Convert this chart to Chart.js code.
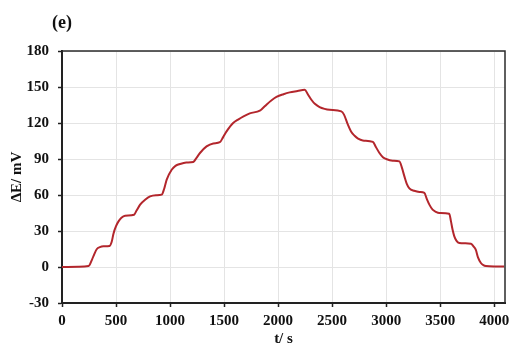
<!DOCTYPE html>
<html>
<head>
<meta charset="utf-8">
<script src="https://cdn.jsdelivr.net/npm/chart.js@4.4.1/dist/chart.umd.min.js"></script>
<style>
  html, body { margin: 0; padding: 0; background: #fff; }
  canvas { display: block; }
</style>
</head>
<body>
<canvas id="c" width="510" height="345"></canvas>
<script>
// Potential response ΔE (mV) versus time t (s)
const timeSec = [
  0, 150, 246, 277, 300, 323, 350, 384, 440, 460, 477, 500, 523, 550, 584, 667, 690, 723, 769, 815,
  870, 923, 945, 969, 1015, 1050, 1092, 1150, 1215, 1245, 1277, 1338, 1400, 1461, 1490, 1523, 1584, 1630, 1680, 1738,
  1831, 1860, 1892, 1940, 1985, 2050, 2107, 2180, 2246, 2275, 2308, 2340, 2384, 2430, 2477, 2585, 2610, 2646, 2675, 2708,
  2740, 2784, 2877, 2905, 2938, 2970, 3000, 3060, 3123, 3145, 3169, 3190, 3215, 3260, 3308, 3354, 3375, 3400, 3430, 3460,
  3492, 3584, 3600, 3615, 3631, 3650, 3677, 3730, 3785, 3810, 3831, 3850, 3877, 3900, 3923, 4000, 4092
];
const deltaE = [
  0, 0.2, 0.8, 6, 11, 15, 16.5, 17.2, 17.5, 21, 28, 34, 38, 41, 42.7, 43.6, 47, 52, 56, 58.8,
  59.8, 60.3, 65, 72.8, 81, 84.3, 85.8, 87, 87.5, 91, 95, 100.5, 103, 104, 108, 113, 120, 122.8, 125.5, 128,
  130.3, 132.5, 135.3, 139, 141.7, 144, 145.5, 146.7, 147.8, 144, 139.4, 136, 133.3, 131.8, 131, 129.7, 127, 118.6, 113, 109.4,
  107, 105.5, 104.2, 100, 95, 91.5, 90, 88.6, 88, 83, 75.5, 69.5, 65.5, 63.5, 62.5, 61.7, 57, 52, 47.8, 46,
  45, 44.4, 38, 31, 25.5, 22, 20, 19.7, 19.4, 17, 14, 8, 3.3, 1.5, 0.8, 0.5, 0.5
];

// Axis ranges and tick values
const xRange = [0, 4100];
const xTicks = [0, 500, 1000, 1500, 2000, 2500, 3000, 3500, 4000];
const yRange = [-30, 180];
const yTicks = [-30, 0, 30, 60, 90, 120, 150, 180];

const panelLabel = '(e)';
const xTitle = 't/ s';
const yTitle = 'ΔE/ mV';

const serif = 'Liberation Serif';
const boldFont = { family: serif, size: 15, weight: 'bold' };

const points = timeSec.map((t, i) => ({ x: t, y: deltaE[i] }));

// Closes the plot box on the top and right sides
const frame = {
  id: 'frame',
  afterDraw(chart) {
    const { ctx, chartArea: a } = chart;
    ctx.save();
    ctx.strokeStyle = '#2b2b2b';
    ctx.lineWidth = 1.5;
    ctx.beginPath();
    ctx.moveTo(a.left, a.top);
    ctx.lineTo(a.right, a.top);
    ctx.lineTo(a.right, a.bottom);
    ctx.stroke();
    ctx.restore();
  }
};

// Panel letter in the upper left corner
const panelTag = {
  id: 'panelTag',
  afterDraw(chart) {
    const ctx = chart.ctx;
    ctx.save();
    ctx.fillStyle = '#111';
    ctx.font = 'bold 18px "' + serif + '"';
    ctx.textAlign = 'left';
    ctx.textBaseline = 'middle';
    ctx.fillText(panelLabel, 52, 23);
    ctx.restore();
  }
};

const plainLabel = (value) => String(value);

new Chart(document.getElementById('c'), {
  type: 'line',
  data: {
    datasets: [{
      data: points,
      borderColor: '#b3262c',
      borderWidth: 2,
      pointRadius: 0,
      fill: false,
      cubicInterpolationMode: 'monotone'
    }]
  },
  options: {
    responsive: false,
    animation: false,
    events: [],
    layout: { padding: { left: 8, top: 51, right: 5, bottom: 0 } },
    plugins: { legend: { display: false }, tooltip: { enabled: false }, title: { display: false } },
    scales: {
      x: {
        type: 'linear',
        min: xRange[0],
        max: xRange[1],
        afterBuildTicks(scale) {
          scale.ticks = xTicks.map(v => ({ value: v }));
        },
        grid: { color: '#e4e4e4', lineWidth: 1, tickColor: '#222', tickLength: 4, tickWidth: 1.5 },
        border: { color: '#222', width: 2 },
        ticks: {
          autoSkip: false,
          maxRotation: 0,
          padding: 5,
          color: '#111',
          font: boldFont,
          callback: plainLabel
        },
        title: {
          display: true,
          text: xTitle,
          color: '#111',
          font: { family: serif, size: 15, weight: 'bold', lineHeight: 0.8 },
          padding: 0
        },
        afterFit(scale) {
          scale.height = 42;
          scale.paddingLeft = 0;
          scale.paddingRight = 0;
        }
      },
      y: {
        min: yRange[0],
        max: yRange[1],
        afterBuildTicks(scale) {
          scale.ticks = yTicks.map(v => ({ value: v }));
        },
        grid: { color: '#e4e4e4', lineWidth: 1, tickColor: '#222', tickLength: 4, tickWidth: 1.5 },
        border: { color: '#222', width: 2 },
        ticks: {
          autoSkip: false,
          padding: 9,
          color: '#111',
          font: boldFont,
          callback: plainLabel
        },
        title: {
          display: true,
          text: yTitle,
          color: '#111',
          font: boldFont,
          padding: 0
        },
        afterFit(scale) {
          scale.width = 54;
          scale.paddingTop = 0;
          scale.paddingBottom = 0;
        }
      }
    }
  },
  plugins: [frame, panelTag]
});
</script>
</body>
</html>
